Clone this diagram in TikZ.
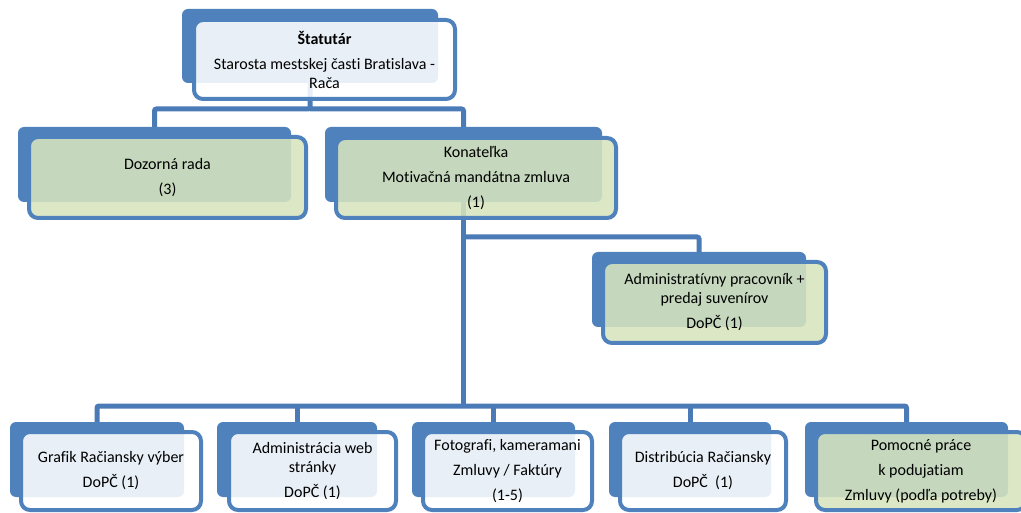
\documentclass[tikz,border=0pt]{standalone}
\usepackage{fontspec}
\setmainfont{Carlito}[RawFeature={-liga;-clig;-calt;-dlig}]
\usetikzlibrary{backgrounds}
\definecolor{boxblue}{HTML}{4F81BD}
\definecolor{connblue}{HTML}{4A7BB7}
\definecolor{lightgreen}{HTML}{D7E4BD}
\tikzset{
  backbox/.style={draw=none, fill=boxblue, rounded corners=6pt, inner sep=0pt, outer sep=0pt},
  frontbox/.style={draw=boxblue, line width=4pt, rounded corners=9pt, fill opacity=0.875, text opacity=1,
    inner sep=0pt, outer sep=0pt, align=center, text=black, font=\fontsize{16}{19}\selectfont},
  conn/.style={draw=connblue, line width=5pt, rounded corners=2pt}
}
\begin{document}
\begin{tikzpicture}[x=1pt,y=-1pt]
\useasboundingbox (0,0) rectangle (1021,513);
\clip (0,0) rectangle (1021,513);
% Statutar
\node[backbox, minimum width=256, minimum height=74] (statb) at (310,46) {};
\node[frontbox, fill=white, minimum width=261, minimum height=79] (stat) at (324.5,59.5)
  {\textbf{Štatutár}\\[6pt]Starosta mestskej časti Bratislava -\\Rača};
% Dozorna rada
\node[backbox, minimum width=273, minimum height=75] (dozb) at (154.5,164.5) {};
\node[frontbox, fill=lightgreen, minimum width=277, minimum height=81] (doz) at (167.5,177.5)
  {Dozorná rada\\[6pt](3)};
% Konatelka
\node[backbox, minimum width=277, minimum height=75] (konb) at (463.5,164.5) {};
\node[frontbox, fill=lightgreen, minimum width=280, minimum height=80] (kon) at (476,178)
  {Konateľka\\[6pt]Motivačná mandátna zmluva\\[6pt](1)};
% Administrativny
\node[backbox, minimum width=214, minimum height=75] (admb) at (699,289.5) {};
\node[frontbox, fill=lightgreen, minimum width=223, minimum height=81] (adm) at (714.5,302.5)
  {Administratívny pracovník +\\predaj suvenírov\\[6pt]DoPČ (1)};
% Bottom row
\node[backbox, minimum width=174, minimum height=75] (grafb) at (97,459.5) {};
\node[frontbox, fill=white, minimum width=180, minimum height=78] (graf) at (111,471)
  {Grafik Račiansky výber\\[6pt]DoPČ (1)};
\node[backbox, minimum width=160, minimum height=75] (webb) at (297,459.5) {};
\node[frontbox, fill=white, minimum width=167, minimum height=78] (web) at (312.5,471)
  {Administrácia web\\stránky\\[6pt]DoPČ (1)};
\node[backbox, minimum width=163, minimum height=75] (fotob) at (493.5,459.5) {};
\node[frontbox, fill=white, minimum width=169, minimum height=78] (foto) at (507.5,471)
  {Fotografi, kameramani\\[6pt]Zmluvy / Faktúry\\[6pt](1-5)};
\node[backbox, minimum width=162, minimum height=75] (distb) at (690,459.5) {};
\node[frontbox, fill=white, minimum width=166, minimum height=78] (dist) at (703,471)
  {Distribúcia Račiansky\\[6pt]DoPČ~ (1)};
\node[backbox, minimum width=203, minimum height=75] (pomb) at (906.5,459.5) {};
\node[frontbox, fill=lightgreen, minimum width=210, minimum height=78] (pom) at (921,471)
  {Pomocné práce\\[6pt]k podujatiam\\[6pt]Zmluvy (podľa potreby)};
% bar levels
\coordinate (bar1) at (0,109);
\coordinate (bar2) at (0,237);
\coordinate (bar3) at (0,406);
\begin{pgfonlayer}{background}
\draw[conn] (statb.center) -- (statb.center |- bar1) -| (dozb.north);
\draw[conn] (statb.center |- bar1) -| (konb.north);
\draw[conn] (konb.center) -- (konb.center |- bar3);
\draw[conn] (konb.center |- bar2) -| (admb.north);
\draw[conn] (grafb.north) |- (pomb.north |- bar3) -- (pomb.north);
\draw[conn] (webb.north) -- (webb.north |- bar3);
\draw[conn] (fotob.north) -- (fotob.north |- bar3);
\draw[conn] (distb.north) -- (distb.north |- bar3);
\end{pgfonlayer}
\end{tikzpicture}
\end{document}
